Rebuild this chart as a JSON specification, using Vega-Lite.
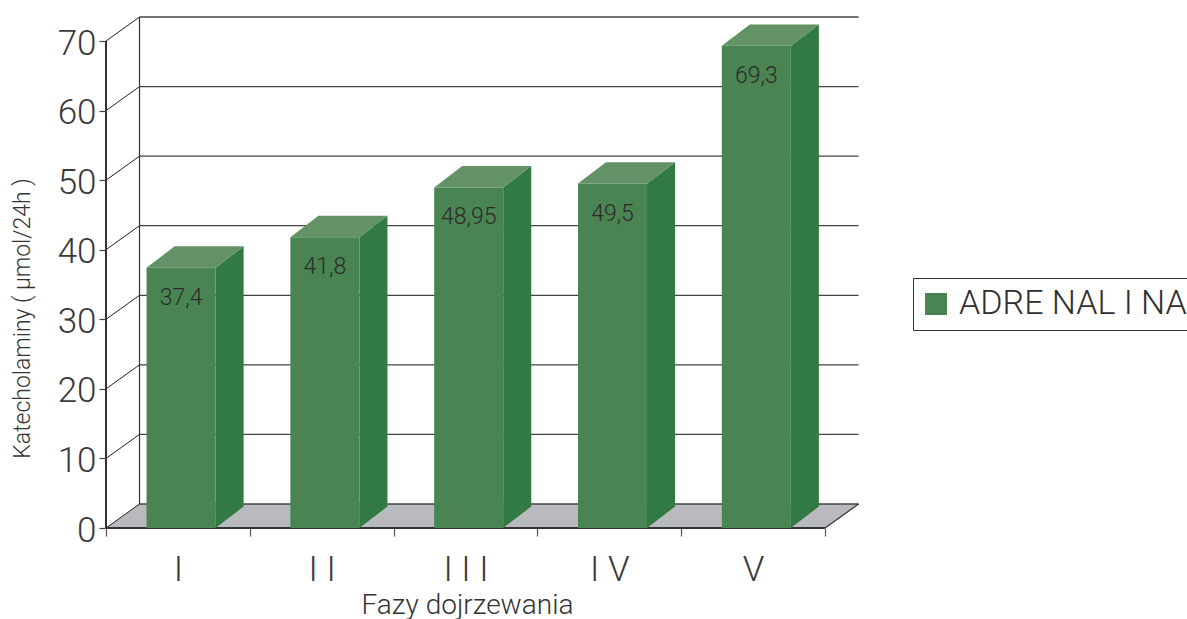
{
  "$schema": "https://vega.github.io/schema/vega-lite/v6.json",
  "width": 753,
  "height": 511,
  "autosize": {"type": "none"},
  "padding": {"left": 106, "top": 17, "right": 328, "bottom": 91},
  "background": "white",
  "config": {
    "view": {"stroke": null},
    "font": "Roboto",
    "text": {"font": "Roboto"}
  },
  "datasets": {
    "adrenalina": [
      {"faza": "I", "wartosc": 37.4, "etykieta": "37,4", "seria": "ADRE NAL I NA"},
      {"faza": "II", "wartosc": 41.8, "etykieta": "41,8", "seria": "ADRE NAL I NA"},
      {"faza": "III", "wartosc": 48.95, "etykieta": "48,95", "seria": "ADRE NAL I NA"},
      {"faza": "IV", "wartosc": 49.5, "etykieta": "49,5", "seria": "ADRE NAL I NA"},
      {"faza": "V", "wartosc": 69.3, "etykieta": "69,3", "seria": "ADRE NAL I NA"}
    ],
    "poziomy": [
      {"poziom": 0}, {"poziom": 10}, {"poziom": 20}, {"poziom": 30},
      {"poziom": 40}, {"poziom": 50}, {"poziom": 60}, {"poziom": 70}
    ]
  },
  "layer": [
    {
      "description": "Floor of the 3D box",
      "data": {"name": "poziomy"},
      "transform": [
        {"filter": "datum.poziom === 0"},
        {"calculate": "[0, 0.233, 5, 5.233]", "as": "px"},
        {"flatten": ["px"]},
        {"calculate": "datum.px === 5.233 ? 3.45 : 0", "as": "dol"},
        {"calculate": "datum.px === 0 ? 0 : 3.45", "as": "gora"}
      ],
      "mark": {"type": "area", "fill": "#b9babd", "stroke": null},
      "encoding": {
        "x": {"field": "px", "type": "quantitative", "scale": {"domain": [0, 5.236], "nice": false},
          "axis": {
            "values": [0, 0.5, 1, 1.5, 2, 2.5, 3, 3.5, 4, 4.5, 5],
            "domain": false, "grid": false,
            "tickSize": 8, "tickColor": "#555", "tickWidth": 1.2,
            "tickOpacity": {"condition": {"test": "datum.value % 1 !== 0", "value": 0}, "value": 1},
            "labelExpr": "datum.value === 0.5 ? 'I' : datum.value === 1.5 ? 'I I' : datum.value === 2.5 ? 'I I I' : datum.value === 3.5 ? 'I V' : datum.value === 4.5 ? 'V' : ''",
            "labelFontSize": 35, "labelFontWeight": 300, "labelColor": "#3a3a3a", "labelFont": "Roboto",
            "labelPadding": 16, "labelOverlap": false, "labelFlush": false,
            "title": "Fazy dojrzewania", "titleFont": "Roboto", "titleFontSize": 28, "titleFontWeight": 300, "titleColor": "#333",
            "titleX": 361, "titleY": 85, "titleAlign": "center", "titleBaseline": "alphabetic"
          }
        },
        "y": {"field": "dol", "type": "quantitative", "scale": {"domain": [0, 73.45], "nice": false},
          "axis": {
            "values": [0, 10, 20, 30, 40, 50, 60, 70],
            "domain": false, "grid": false,
            "tickSize": 7, "tickColor": "#444", "tickWidth": 1.2,
            "labelFontSize": 35, "labelFontWeight": 300, "labelColor": "#3a3a3a", "labelFont": "Roboto", "labelPadding": 3, "labelOffset": 2,
            "title": "Katecholaminy ( µmol/24h )", "titleFont": "Roboto", "titleFontSize": 23, "titleFontWeight": 300, "titleColor": "#333",
            "titleX": -84, "titleY": 301, "titleAngle": -90, "titleAlign": "center", "titleBaseline": "middle"
          }
        },
        "y2": {"field": "gora"}
      }
    },
    {
      "description": "Grid lines on the back wall",
      "data": {"name": "poziomy"},
      "transform": [
        {"calculate": "datum.poziom + 3.45", "as": "tyl"},
        {"calculate": "0.233", "as": "xa"},
        {"calculate": "5.233", "as": "xb"}
      ],
      "mark": {"type": "rule", "stroke": "#444", "strokeWidth": 1.3},
      "encoding": {
        "x": {"field": "xa", "type": "quantitative", "scale": {"domain": [0, 5.236], "nice": false}},
        "x2": {"field": "xb"},
        "y": {"field": "tyl", "type": "quantitative", "scale": {"domain": [0, 73.45], "nice": false}}
      }
    },
    {
      "description": "Grid lines running across the left wall",
      "data": {"name": "poziomy"},
      "transform": [
        {"calculate": "datum.poziom + 3.45", "as": "tyl"},
        {"calculate": "0", "as": "xa"},
        {"calculate": "0.233", "as": "xb"}
      ],
      "mark": {"type": "rule", "stroke": "#222", "strokeWidth": 1},
      "encoding": {
        "x": {"field": "xa", "type": "quantitative", "scale": {"domain": [0, 5.236], "nice": false}},
        "x2": {"field": "xb"},
        "y": {"field": "poziom", "type": "quantitative", "scale": {"domain": [0, 73.45], "nice": false}},
        "y2": {"field": "tyl"}
      }
    },
    {
      "description": "Right edge of the floor, front edge, left axis line and back corner",
      "data": {"name": "poziomy"},
      "transform": [
        {"filter": "datum.poziom === 0"},
        {"calculate": "[{xa: 5, xb: 5.233, ya: 0, yb: 3.45, w: 1.2}, {xa: 0, xb: 5, ya: 0, yb: 0, w: 2}, {xa: 0, xb: 0, ya: 0, yb: 70, w: 2}, {xa: 0.233, xb: 0.233, ya: 3.45, yb: 73.45, w: 1.2}]", "as": "o"},
        {"flatten": ["o"]},
        {"calculate": "datum.o.xa", "as": "xa"},
        {"calculate": "datum.o.xb", "as": "xb"},
        {"calculate": "datum.o.ya", "as": "ya"},
        {"calculate": "datum.o.yb", "as": "yb"},
        {"calculate": "datum.o.w", "as": "w"}
      ],
      "mark": {"type": "rule", "stroke": "#333"},
      "encoding": {
        "x": {"field": "xa", "type": "quantitative", "scale": {"domain": [0, 5.236], "nice": false}},
        "x2": {"field": "xb"},
        "y": {"field": "ya", "type": "quantitative", "scale": {"domain": [0, 73.45], "nice": false}},
        "y2": {"field": "yb"},
        "strokeWidth": {"field": "w", "type": "quantitative", "scale": null}
      }
    },
    {
      "description": "Side face of each bar",
      "data": {"name": "adrenalina"},
      "transform": [
        {"calculate": "indexof(['I','II','III','IV','V'], datum.faza) + 0.282", "as": "x0"},
        {"calculate": "[0, 1]", "as": "k"},
        {"flatten": ["k"]},
        {"calculate": "datum.x0 + 0.48 + datum.k * 0.195", "as": "px"},
        {"calculate": "datum.k * 3.09", "as": "dol"},
        {"calculate": "datum.wartosc + datum.k * 3.09", "as": "gora"}
      ],
      "mark": {"type": "area", "fill": "#327a43", "stroke": null},
      "encoding": {
        "x": {"field": "px", "type": "quantitative", "scale": {"domain": [0, 5.236], "nice": false}},
        "y": {"field": "dol", "type": "quantitative", "scale": {"domain": [0, 73.45], "nice": false}},
        "y2": {"field": "gora"},
        "detail": {"field": "faza"}
      }
    },
    {
      "description": "Top face of each bar",
      "data": {"name": "adrenalina"},
      "transform": [
        {"calculate": "indexof(['I','II','III','IV','V'], datum.faza) + 0.282", "as": "x0"},
        {"calculate": "[0, 1, 2, 3]", "as": "k"},
        {"flatten": ["k"]},
        {"calculate": "datum.x0 + [0, 0.195, 0.48, 0.675][datum.k]", "as": "px"},
        {"calculate": "datum.wartosc + (datum.k === 3 ? 3.09 : 0)", "as": "dol"},
        {"calculate": "datum.wartosc + (datum.k === 0 ? 0 : 3.09)", "as": "gora"}
      ],
      "mark": {"type": "area", "fill": "#629265", "stroke": null},
      "encoding": {
        "x": {"field": "px", "type": "quantitative", "scale": {"domain": [0, 5.236], "nice": false}},
        "y": {"field": "dol", "type": "quantitative", "scale": {"domain": [0, 73.45], "nice": false}},
        "y2": {"field": "gora"},
        "detail": {"field": "faza"}
      }
    },
    {
      "description": "Front face of each bar",
      "data": {"name": "adrenalina"},
      "transform": [
        {"calculate": "indexof(['I','II','III','IV','V'], datum.faza) + 0.282", "as": "x0"},
        {"calculate": "datum.x0 + 0.48", "as": "x1"},
        {"calculate": "0", "as": "podstawa"}
      ],
      "mark": {"type": "rect"},
      "encoding": {
        "x": {"field": "x0", "type": "quantitative", "scale": {"domain": [0, 5.236], "nice": false}},
        "x2": {"field": "x1"},
        "y": {"field": "wartosc", "type": "quantitative", "scale": {"domain": [0, 73.45], "nice": false}},
        "y2": {"field": "podstawa"},
        "color": {
          "field": "seria", "type": "nominal",
          "scale": {"range": ["#4a8452"]},
          "legend": {
            "title": null, "orient": "none", "legendX": 807, "legendY": 261,
            "strokeColor": "#333", "fillColor": "white", "padding": 6,
            "symbolType": "square", "symbolSize": 484, "symbolStrokeWidth": 0, "symbolOpacity": 1,
            "labelFont": "Roboto", "labelFontSize": 34, "labelFontWeight": 300, "labelColor": "#2f2f2f",
            "labelOffset": 6, "clipHeight": 40, "labelLimit": 400
          }
        }
      }
    },
    {
      "description": "Value printed on the front of each bar",
      "data": {"name": "adrenalina"},
      "transform": [
        {"calculate": "indexof(['I','II','III','IV','V'], datum.faza) + 0.522", "as": "xs"}
      ],
      "mark": {"type": "text", "font": "Roboto", "fontWeight": 300, "fontSize": 23, "fill": "#2b2b2b", "dy": 30, "align": "center", "baseline": "middle"},
      "encoding": {
        "x": {"field": "xs", "type": "quantitative", "scale": {"domain": [0, 5.236], "nice": false}},
        "y": {"field": "wartosc", "type": "quantitative", "scale": {"domain": [0, 73.45], "nice": false}},
        "text": {"field": "etykieta"}
      }
    }
  ]
}
